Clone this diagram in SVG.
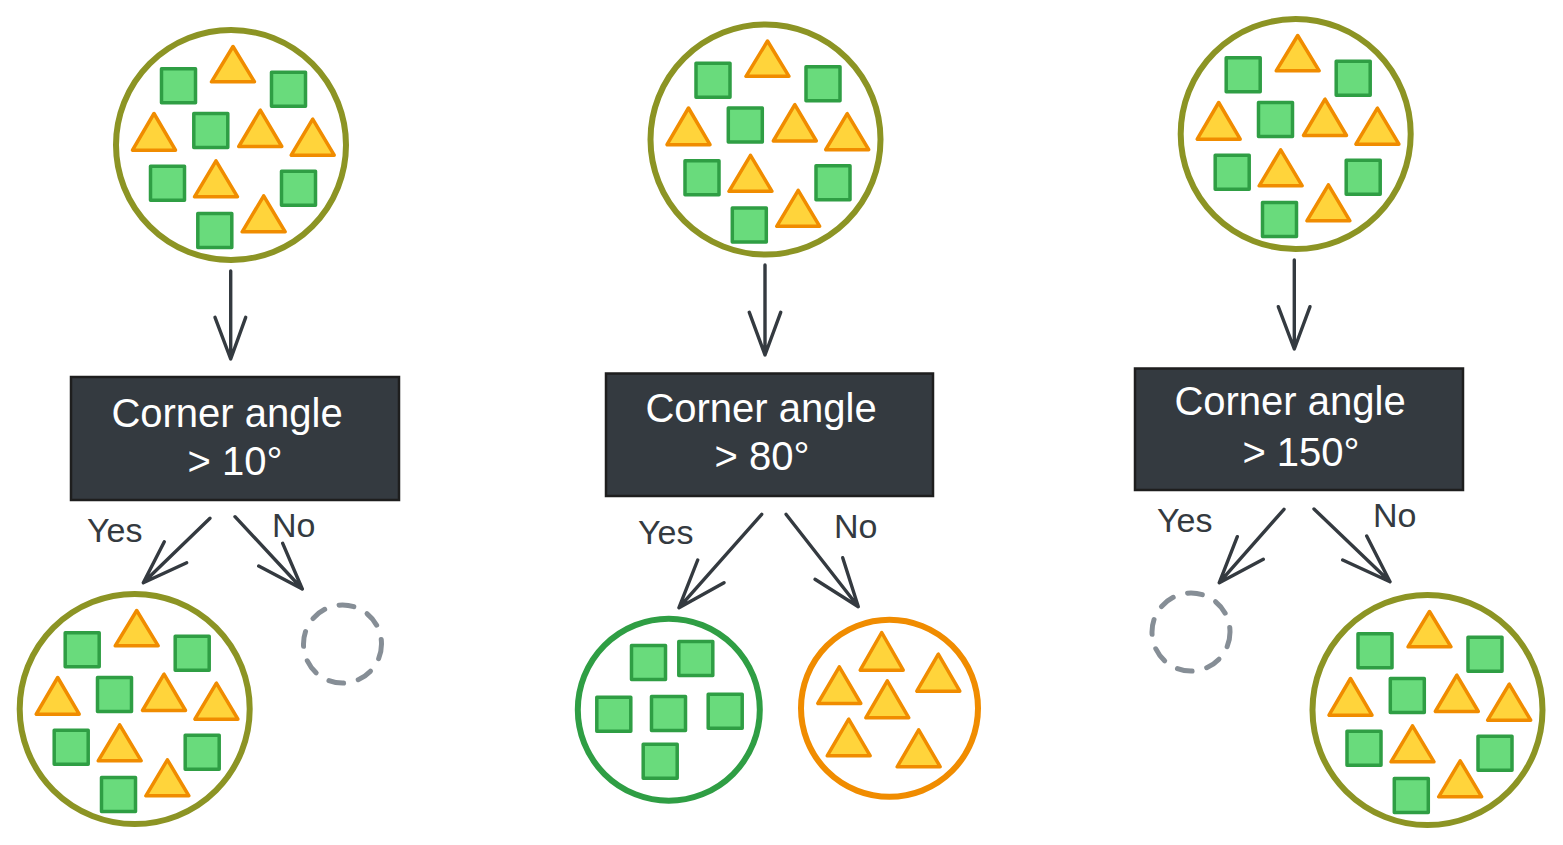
<svg xmlns="http://www.w3.org/2000/svg" xmlns:xlink="http://www.w3.org/1999/xlink" width="1563" height="845" viewBox="0 0 1563 845">
  <style>
    .ring { fill: #ffffff; stroke: #8c9424; stroke-width: 6; }
    .ring-green { fill: #ffffff; stroke: #2f9e44; stroke-width: 6; }
    .ring-orange { fill: #ffffff; stroke: #f08c00; stroke-width: 6; }
    .empty { fill: none; stroke: #868e96; stroke-width: 5; stroke-dasharray: 15 15; stroke-linecap: round; }
    .sq { fill: #69db7c; stroke: #2f9e44; stroke-width: 3.5; stroke-linejoin: round; }
    .tri { fill: #ffd43b; stroke: #f08c00; stroke-width: 3.5; stroke-linejoin: round; }
    .box { fill: #343a40; stroke: #1e1e1e; stroke-width: 2.5; }
    .boxtext { fill: #ffffff; font-family: "Liberation Sans", Arial, sans-serif; font-size: 40px; text-anchor: middle; }
    .label { fill: #343a40; font-family: "Liberation Sans", Arial, sans-serif; font-size: 34px; }
    .arrow { fill: none; stroke: #343a40; stroke-width: 3.4; stroke-linecap: round; stroke-linejoin: round; }
  </style>
  <defs>
    <g id="mixed">
      <circle class="ring" cx="0" cy="0" r="115"/>
      <rect class="sq" x="-69.5" y="-76.2" width="34" height="34"/>
      <rect class="sq" x="40.5" y="-72.8" width="34" height="34"/>
      <rect class="sq" x="-37.2" y="-31.5" width="34" height="34"/>
      <rect class="sq" x="-80.5" y="21.2" width="34" height="34"/>
      <rect class="sq" x="50.5" y="26.2" width="34" height="34"/>
      <rect class="sq" x="-33.2" y="68.5" width="34" height="34"/>
      <polygon class="tri" points="2,-98.5 -19.5,-63.2 23.5,-63.2"/>
      <polygon class="tri" points="-77,-31.5 -98.5,5.2 -55.5,5.2"/>
      <polygon class="tri" points="29.3,-34.8 7.8,1.5 50.8,1.5"/>
      <polygon class="tri" points="81.7,-25.8 60.2,10.2 103.2,10.2"/>
      <polygon class="tri" points="-15,15.8 -36.5,51.8 6.5,51.8"/>
      <polygon class="tri" points="32.7,50.8 11.2,86.8 54.2,86.8"/>
    </g>
  </defs>

  <!-- Column 1 -->
  <g id="input-1"><use xlink:href="#mixed" href="#mixed" transform="translate(231,145)"/></g>
  <g id="decision-1">
    <rect class="box" x="71" y="377" width="328" height="123"/>
    <text class="boxtext" x="227" y="427">Corner angle</text>
    <text class="boxtext" x="235" y="475">&gt; 10°</text>
  </g>
  <g id="yes-1"><use xlink:href="#mixed" href="#mixed" transform="translate(134.7,709)"/></g>
  <g id="no-1"><circle class="empty" cx="342.5" cy="644" r="39"/></g>

  <!-- Column 2 -->
  <g id="input-2"><use xlink:href="#mixed" href="#mixed" transform="translate(765.5,139.5)"/></g>
  <g id="decision-2">
    <rect class="box" x="606" y="373.5" width="327" height="122.5"/>
    <text class="boxtext" x="761" y="422">Corner angle</text>
    <text class="boxtext" x="762" y="470">&gt; 80°</text>
  </g>
  <g id="yes-2">
    <circle class="ring-green" cx="668.8" cy="709.7" r="91"/>
    <rect class="sq" x="631.5" y="645.5" width="34" height="34"/>
    <rect class="sq" x="678.8" y="641.5" width="34" height="34"/>
    <rect class="sq" x="596.8" y="697.2" width="34" height="34"/>
    <rect class="sq" x="651.5" y="696.5" width="34" height="34"/>
    <rect class="sq" x="708.2" y="694.2" width="34" height="34"/>
    <rect class="sq" x="643.2" y="744.2" width="34" height="34"/>
  </g>
  <g id="no-2">
    <circle class="ring-orange" cx="889.5" cy="708.3" r="88.5"/>
    <polygon class="tri" points="881.7,632.5 860.2,670.2 903.2,670.2"/>
    <polygon class="tri" points="938.3,654.2 916.8,691.2 959.8,691.2"/>
    <polygon class="tri" points="839.3,666.8 817.8,703.5 860.8,703.5"/>
    <polygon class="tri" points="887.3,680.8 865.8,717.8 908.8,717.8"/>
    <polygon class="tri" points="848.7,719.2 827.2,755.8 870.2,755.8"/>
    <polygon class="tri" points="918.7,729.8 897.2,766.8 940.2,766.8"/>
  </g>

  <!-- Column 3 -->
  <g id="input-3"><use xlink:href="#mixed" href="#mixed" transform="translate(1295.7,134)"/></g>
  <g id="decision-3">
    <rect class="box" x="1135" y="368.5" width="328" height="121.5"/>
    <text class="boxtext" x="1290" y="415">Corner angle</text>
    <text class="boxtext" x="1301" y="466">&gt; 150°</text>
  </g>
  <g id="yes-3"><circle class="empty" cx="1191" cy="632" r="39"/></g>
  <g id="no-3"><use xlink:href="#mixed" href="#mixed" transform="translate(1427.5,710)"/></g>

  <!-- Connectors -->
  <g id="connectors">
    <path class="arrow" d="M230.7,271 L230.7,359 M215,317.3 L230.7,359 L245.7,317.3"/>
    <path class="arrow" d="M765,265 L765,355 M749.3,312.3 L765,355 L780.7,312.3"/>
    <path class="arrow" d="M1294.3,260 L1294.3,349 M1278.3,306.7 L1294.3,349 L1310,306.7"/>

    <path class="arrow" d="M210,518.3 L143.3,582.7 M164.3,541.7 L143.3,582.7 L186.7,562.7"/>
    <path class="arrow" d="M235,516.7 L302.3,589 M282.7,543.3 L302.3,589 L258.7,566"/>

    <path class="arrow" d="M761.7,514.3 L679,607.7 M697.7,560 L679,607.7 L724,582.7"/>
    <path class="arrow" d="M786,514.3 L858.3,606.7 M842.7,557.7 L858.3,606.7 L815,579.3"/>

    <path class="arrow" d="M1284,509.3 L1219.3,582.7 M1237.3,536.7 L1219.3,582.7 L1263.3,559.3"/>
    <path class="arrow" d="M1314,509 L1390,581.7 M1366.7,536 L1390,581.7 L1342.7,560"/>

    <text class="label" x="87" y="542">Yes</text>
    <text class="label" x="272" y="537">No</text>
    <text class="label" x="638" y="544">Yes</text>
    <text class="label" x="834" y="538">No</text>
    <text class="label" x="1157" y="532">Yes</text>
    <text class="label" x="1373" y="527">No</text>
  </g>
</svg>
